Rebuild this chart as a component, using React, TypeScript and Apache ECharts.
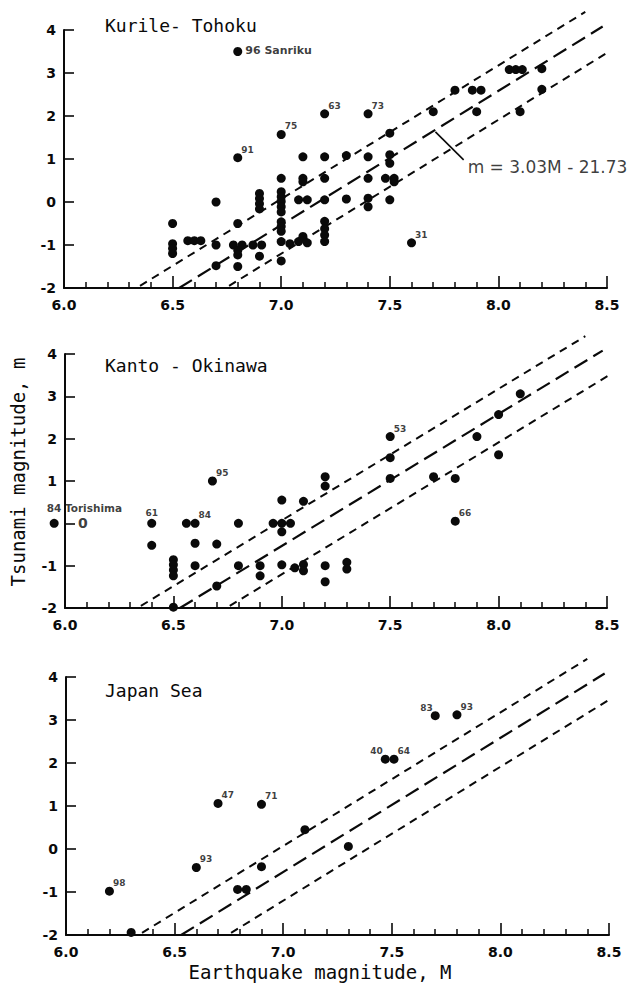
import React, { useEffect, useRef } from "react";
import * as echarts from "echarts";

// ---------- data ----------
const X_MIN = 6.0;
const X_MAX = 8.5;
const X_STEP = 0.5;
const Y_MIN = -2;
const Y_MAX = 4;
const Y_STEP = 1;

const panelTitles = ["Kurile- Tohoku", "Kanto - Okinawa", "Japan Sea"];
const yAxisTitle = "Tsunami magnitude, m";
const xAxisTitle = "Earthquake magnitude, M";

// regression line m = 3.03 M - 21.73 and its band, end points [M, m]
const upperBand: [number, number][] = [
  [6.35, -1.95],
  [8.4, 4.42],
];
const centralFit: [number, number][] = [
  [6.53, -2.0],
  [8.48, 4.08],
];
const lowerBand: [number, number][] = [
  [6.76, -1.95],
  [8.51, 3.5],
];
const equationText = "m = 3.03M - 21.73";
const equationPointer: [number, number][] = [
  [7.71, 1.63],
  [7.84, 0.98],
];

// [M, m]
const kurilePoints: [number, number][] = [
  [6.5, -0.5], [6.5, -0.97], [6.5, -1.08], [6.5, -1.2],
  [6.57, -0.9], [6.6, -0.9], [6.63, -0.9],
  [6.7, 0.0], [6.7, -1.0], [6.7, -1.48],
  [6.8, 3.5], [6.8, 1.03], [6.8, -0.5], [6.78, -1.0], [6.82, -1.0], [6.8, -1.12], [6.8, -1.23], [6.8, -1.5],
  [6.9, 0.2], [6.9, 0.08], [6.9, -0.04], [6.9, -0.16], [6.87, -1.0], [6.91, -1.0], [6.9, -1.26],
  [7.0, 1.57], [7.0, 0.55], [7.0, 0.24], [7.0, 0.12], [7.0, 0.01], [7.0, -0.11], [7.0, -0.23],
  [7.0, -0.46], [7.0, -0.57], [7.0, -0.68], [7.0, -0.92], [7.0, -1.37], [7.04, -0.97],
  [7.1, 1.05], [7.1, 0.55], [7.1, 0.47], [7.08, 0.05], [7.12, 0.05], [7.08, -0.92], [7.1, -0.8], [7.12, -0.95],
  [7.2, 2.05], [7.2, 1.05], [7.2, 0.55], [7.2, 0.05], [7.2, -0.45], [7.2, -0.62], [7.2, -0.77], [7.2, -0.92],
  [7.3, 1.08], [7.3, 0.07],
  [7.4, 2.05], [7.4, 1.05], [7.4, 0.55], [7.4, 0.09], [7.4, -0.11],
  [7.5, 1.6], [7.5, 1.1], [7.5, 0.9], [7.48, 0.55], [7.52, 0.55], [7.52, 0.47], [7.5, 0.05],
  [7.6, -0.95],
  [7.7, 2.1], [7.8, 2.6], [7.88, 2.6], [7.92, 2.6], [7.9, 2.1],
  [8.05, 3.08], [8.08, 3.08], [8.11, 3.08], [8.2, 3.1], [8.1, 2.1], [8.2, 2.62],
];
const kurileLabels: [string, number, number][] = [
  ["96 Sanriku", 6.8, 3.5],
  ["91", 6.8, 1.03],
  ["75", 7.0, 1.57],
  ["63", 7.2, 2.05],
  ["73", 7.4, 2.05],
  ["31", 7.6, -0.95],
];

const kantoPoints: [number, number][] = [
  [5.95, 0.0],
  [6.4, 0.0], [6.4, -0.52],
  [6.5, -0.86], [6.5, -0.98], [6.5, -1.1], [6.5, -1.24], [6.5, -1.98],
  [6.56, 0.0], [6.6, 0.0], [6.6, -0.47], [6.6, -1.0],
  [6.68, 1.0], [6.7, -0.49], [6.7, -1.48],
  [6.8, 0.0], [6.8, -1.0],
  [6.9, -1.0], [6.9, -1.24],
  [6.96, 0.0], [7.0, 0.0], [7.04, 0.0], [7.0, -0.2], [7.0, 0.55], [7.0, -0.98],
  [7.1, 0.52], [7.06, -1.05], [7.1, -0.97], [7.1, -1.12],
  [7.2, 1.1], [7.2, 0.88], [7.2, -1.0], [7.2, -1.38],
  [7.3, -0.92], [7.3, -1.08],
  [7.5, 2.05], [7.5, 1.55], [7.5, 1.06],
  [7.7, 1.1], [7.8, 1.06], [7.8, 0.05],
  [7.9, 2.05], [8.0, 2.57], [8.0, 1.62], [8.1, 3.06],
];
const kantoLabels: [string, number, number][] = [
  ["84 Torishima", 5.95, 0.0],
  ["61", 6.4, 0.0],
  ["84", 6.6, 0.0],
  ["95", 6.68, 1.0],
  ["53", 7.5, 2.05],
  ["66", 7.8, 0.05],
];

const japanSeaPoints: [number, number][] = [
  [6.2, -0.98], [6.3, -1.94], [6.6, -0.43], [6.7, 1.06], [6.9, 1.04], [6.9, -0.41],
  [6.79, -0.94], [6.83, -0.94], [7.1, 0.45], [7.3, 0.06],
  [7.47, 2.09], [7.51, 2.09], [7.7, 3.1], [7.8, 3.12],
];
const japanSeaLabels: [string, number, number][] = [
  ["98", 6.2, -0.98],
  ["93", 6.6, -0.43],
  ["47", 6.7, 1.06],
  ["71", 6.9, 1.04],
  ["40", 7.47, 2.09],
  ["64", 7.51, 2.09],
  ["83", 7.7, 3.1],
  ["93", 7.8, 3.12],
];

// ---------- styling / layout ----------
const INK = "#0a0a0a";
const TICK_FONT = "'DejaVu Sans', sans-serif";
const TITLE_FONT = "'DejaVu Sans Mono', monospace";

const GRIDS = [
  { left: 64, top: 30, width: 543, height: 258 },
  { left: 65, top: 354, width: 542, height: 254 },
  { left: 66, top: 677, width: 543, height: 258 },
];
const TITLE_Y = [25, 365, 690];

const UPPER_LEFT = new Set(["40", "83"]);
const ABOVE = new Set(["61"]);

function labelStyle(text: string) {
  const base = { show: true, color: INK, fontFamily: TICK_FONT, fontWeight: "bold" as const, formatter: text };
  if (text.indexOf("Sanriku") >= 0) return { ...base, position: "right", distance: 3, offset: [0, -1], fontSize: 11 };
  if (text.indexOf("Torishima") >= 0)
    return { ...base, position: [-3, -11], align: "left", verticalAlign: "middle", fontSize: 10.5 };
  if (UPPER_LEFT.has(text)) return { ...base, position: "left", distance: 0, offset: [2, -8], fontSize: 9 };
  if (ABOVE.has(text)) return { ...base, position: "top", distance: 1, fontSize: 9 };
  return { ...base, position: "right", distance: 0, offset: [-1, -8], fontSize: 9 };
}

function bandLines(i: number) {
  const defs = [
    { pts: upperBand, dash: [8, 6], w: 2 },
    { pts: centralFit, dash: [15, 7], w: 2.2 },
    { pts: lowerBand, dash: [8, 6], w: 2 },
  ];
  return defs.map((d) => ({
    type: "line",
    xAxisIndex: i,
    yAxisIndex: i,
    data: d.pts,
    symbol: "none",
    showSymbol: false,
    clip: false,
    silent: true,
    lineStyle: { color: INK, width: d.w, type: d.dash },
    z: 1,
  }));
}

function panelSeries(i: number, points: [number, number][], labels: [string, number, number][]) {
  return [
    ...bandLines(i),
    {
      type: "scatter",
      xAxisIndex: i,
      yAxisIndex: i,
      data: points,
      symbol: "circle",
      symbolSize: 9,
      clip: false,
      silent: true,
      itemStyle: { color: INK, opacity: 1 },
      z: 3,
    },
    {
      type: "scatter",
      xAxisIndex: i,
      yAxisIndex: i,
      data: labels.map(([t, M, m]) => ({ value: [M, m], name: t, label: labelStyle(t) })),
      symbol: "circle",
      symbolSize: 9,
      clip: false,
      silent: true,
      itemStyle: { color: "rgba(0,0,0,0)" },
      z: 4,
    },
  ];
}

function xAxisFor(i: number) {
  return {
    gridIndex: i,
    type: "value",
    min: X_MIN,
    max: X_MAX,
    interval: X_STEP,
    axisLine: { show: true, onZero: false, lineStyle: { color: INK, width: 2 } },
    axisTick: { show: true, inside: true, length: 12, lineStyle: { color: INK, width: 1.6 } },
    minorTick: { show: true, splitNumber: 5, length: 6, lineStyle: { color: INK, width: 1.5 } },
    splitLine: { show: false },
    minorSplitLine: { show: false },
    axisLabel: {
      show: true,
      margin: 10,
      color: INK,
      fontFamily: TICK_FONT,
      fontSize: 14,
      fontWeight: "bold",
      formatter: (v: number) => v.toFixed(1),
    },
  };
}

function yAxisFor(i: number, hideZero: boolean) {
  return {
    gridIndex: i,
    type: "value",
    min: Y_MIN,
    max: Y_MAX,
    interval: Y_STEP,
    axisLine: { show: true, onZero: false, lineStyle: { color: INK, width: 2 } },
    axisTick: { show: true, inside: true, length: 10, lineStyle: { color: INK, width: 1.6 } },
    splitLine: { show: false },
    axisLabel: {
      show: true,
      margin: 8,
      color: INK,
      fontFamily: TICK_FONT,
      fontSize: 14,
      fontWeight: "bold",
      formatter: (v: number) => (hideZero && v === 0 ? "" : String(v)),
    },
  };
}

function buildOption() {
  const series: any[] = [
    ...panelSeries(0, kurilePoints, kurileLabels),
    ...panelSeries(1, kantoPoints, kantoLabels),
    ...panelSeries(2, japanSeaPoints, japanSeaLabels),
    // equation pointer + text (panel 1)
    {
      type: "line",
      xAxisIndex: 0,
      yAxisIndex: 0,
      data: equationPointer,
      symbol: "none",
      clip: false,
      silent: true,
      lineStyle: { color: INK, width: 1.6 },
    },
    {
      type: "scatter",
      xAxisIndex: 0,
      yAxisIndex: 0,
      data: [equationPointer[equationPointer.length - 1]],
      symbolSize: 0,
      clip: false,
      silent: true,
      label: {
        show: true,
        formatter: equationText,
        position: "right",
        distance: 4,
        offset: [0, 7],
        color: INK,
        fontFamily: TICK_FONT,
        fontSize: 17,
      },
    },
    // displaced "0" tick label of panel 2 (drawn right of the axis)
    {
      type: "scatter",
      xAxisIndex: 1,
      yAxisIndex: 1,
      data: [[X_MIN, 0]],
      symbolSize: 0,
      clip: false,
      silent: true,
      label: {
        show: true,
        formatter: "0",
        position: "right",
        distance: 13,
        color: INK,
        fontFamily: TICK_FONT,
        fontSize: 14,
        fontWeight: "bold",
      },
    },
  ];

  const graphic: any[] = panelTitles.map((t, i) => ({
    type: "text",
    x: 105,
    y: TITLE_Y[i],
    style: {
      text: t,
      fill: INK,
      font: `18px ${TITLE_FONT}`,
      align: "left",
      verticalAlign: "middle",
    },
  }));
  graphic.push({
    type: "text",
    x: 18,
    y: 472,
    rotation: Math.PI / 2,
    style: {
      text: yAxisTitle,
      fill: INK,
      font: `19px ${TITLE_FONT}`,
      align: "center",
      verticalAlign: "middle",
    },
  });
  graphic.push({
    type: "text",
    x: 320,
    y: 972,
    style: {
      text: xAxisTitle,
      fill: INK,
      font: `19px ${TITLE_FONT}`,
      align: "center",
      verticalAlign: "middle",
    },
  });

  return {
    animation: false,
    backgroundColor: "#ffffff",
    grid: GRIDS.map((g) => ({ ...g, containLabel: false })),
    xAxis: [xAxisFor(0), xAxisFor(1), xAxisFor(2)],
    yAxis: [yAxisFor(0, false), yAxisFor(1, true), yAxisFor(2, false)],
    series,
    graphic,
  };
}

export default function App() {
  const ref = useRef<HTMLDivElement>(null);
  useEffect(() => {
    if (!ref.current) return;
    const chart = echarts.init(ref.current, null, { renderer: "svg" });
    chart.setOption(buildOption() as any);
    return () => chart.dispose();
  }, []);
  return (
    <div
      ref={ref}
      style={{ position: "absolute", left: 0, top: 0, width: 637, height: 988, background: "#fff" }}
    />
  );
}
